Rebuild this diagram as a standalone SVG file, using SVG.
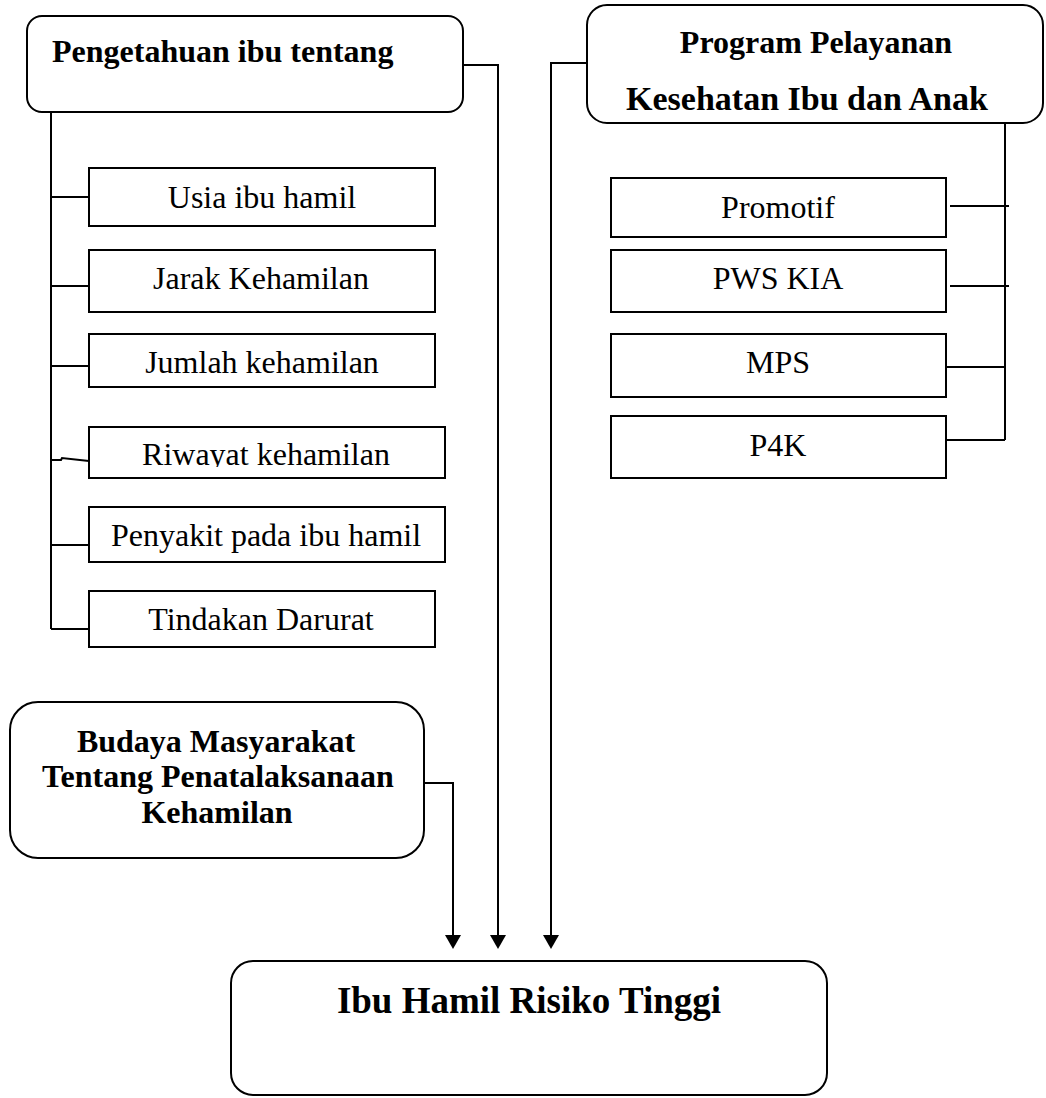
<svg xmlns="http://www.w3.org/2000/svg" width="1046" height="1098" viewBox="0 0 1046 1098">
<style>
.box{fill:#fff;stroke:#000;stroke-width:2}
.t{font-family:"Liberation Serif","Times New Roman",serif;font-size:32px;fill:#000}
.b{font-weight:bold}
.c{text-anchor:middle}
.ln{fill:none;stroke:#000;stroke-width:2}
.ah{fill:#000}
</style>
<defs>
<clipPath id="clipRiw"><rect x="89" y="427" width="356" height="40"/></clipPath>
</defs>
<rect width="1046" height="1098" fill="#fff"/>
<g id="connectors">
<polyline class="ln" points="51,112 51,629"/>
<line class="ln" x1="51" y1="197" x2="89" y2="197"/>
<line class="ln" x1="51" y1="286" x2="89" y2="286"/>
<line class="ln" x1="51" y1="366" x2="89" y2="366"/>
<polyline class="ln" points="51,460 61,460 62,458 89,461"/>
<line class="ln" x1="51" y1="545" x2="89" y2="545"/>
<line class="ln" x1="51" y1="629" x2="89" y2="629"/>
<line class="ln" x1="1005" y1="123" x2="1005" y2="440"/>
<line class="ln" x1="950" y1="206" x2="1009" y2="206"/>
<line class="ln" x1="950" y1="286" x2="1009" y2="286"/>
<line class="ln" x1="946" y1="367" x2="1005" y2="367"/>
<line class="ln" x1="946" y1="440" x2="1005" y2="440"/>
<polyline class="ln" points="463,65 498,65 498,935"/>
<path class="ah" d="M490,935 L506,935 L498,949 Z"/>
<polyline class="ln" points="587,63 551,63 551,935"/>
<path class="ah" d="M543,935 L559,935 L551,949 Z"/>
<polyline class="ln" points="424,783 453,783 453,935"/>
<path class="ah" d="M445,935 L461,935 L453,949 Z"/>
</g>
<g id="n-pengetahuan">
<rect class="box" x="27" y="16" width="436" height="96" rx="15"/>
<text class="t b" x="52" y="62">Pengetahuan ibu tentang</text>
</g>
<g id="n-program">
<rect class="box" x="587" y="5" width="456" height="118" rx="20"/>
<text class="t b c" x="816" y="53">Program Pelayanan</text>
<text class="t b c" x="807" y="110" style="font-size:34px">Kesehatan Ibu dan Anak</text>
</g>
<g id="n-usia">
<rect class="box" x="89" y="168" width="346" height="58"/>
<text class="t c" x="262" y="208">Usia ibu hamil</text>
</g>
<g id="n-jarak">
<rect class="box" x="89" y="250" width="346" height="62"/>
<text class="t c" x="261" y="289">Jarak Kehamilan</text>
</g>
<g id="n-jumlah">
<rect class="box" x="89" y="334" width="346" height="53"/>
<text class="t c" x="262" y="373">Jumlah kehamilan</text>
</g>
<g id="n-riwayat">
<rect class="box" x="89" y="427" width="356" height="51"/>
<text class="t c" x="266" y="465" clip-path="url(#clipRiw)">Riwayat kehamilan</text>
</g>
<g id="n-penyakit">
<rect class="box" x="89" y="507" width="356" height="55"/>
<text class="t c" x="266" y="546">Penyakit pada ibu hamil</text>
</g>
<g id="n-tindakan">
<rect class="box" x="89" y="591" width="346" height="56"/>
<text class="t c" x="261" y="630">Tindakan Darurat</text>
</g>
<g id="n-promotif">
<rect class="box" x="611" y="178" width="335" height="59"/>
<text class="t c" x="778" y="218">Promotif</text>
</g>
<g id="n-pws">
<rect class="box" x="611" y="250" width="335" height="62"/>
<text class="t c" x="778" y="289">PWS KIA</text>
</g>
<g id="n-mps">
<rect class="box" x="611" y="334" width="335" height="63"/>
<text class="t c" x="778" y="373">MPS</text>
</g>
<g id="n-p4k">
<rect class="box" x="611" y="416" width="335" height="62"/>
<text class="t c" x="778" y="456">P4K</text>
</g>
<g id="n-budaya">
<rect class="box" x="10" y="702" width="414" height="156" rx="28"/>
<text class="t b c" x="216" y="752">Budaya Masyarakat</text>
<text class="t b c" x="218" y="787">Tentang Penatalaksanaan</text>
<text class="t b c" x="217" y="823">Kehamilan</text>
</g>
<g id="n-ibu">
<rect class="box" x="231" y="961" width="596" height="134" rx="22"/>
<text class="t b c" x="529" y="1013" style="font-size:37px">Ibu Hamil Risiko Tinggi</text>
</g>
</svg>
